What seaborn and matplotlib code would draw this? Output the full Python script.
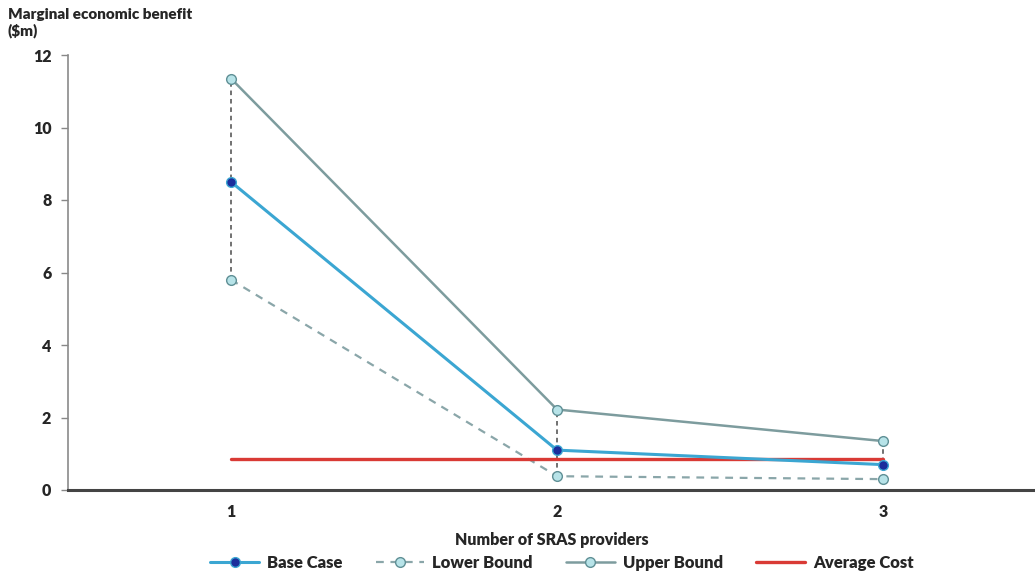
import numpy as np
import pandas as pd
import matplotlib
matplotlib.use("Agg")
import matplotlib.pyplot as plt
import seaborn as sns

# data
providers = [1, 2, 3]
base_case = [8.5, 1.1, 0.7]
lower_bound = [5.8, 0.38, 0.3]
upper_bound = [11.35, 2.22, 1.35]
average_cost = [0.85, 0.85, 0.85]
y_ticks = [0, 2, 4, 6, 8, 10, 12]

sns.set_style("white")
plt.rcParams['font.family'] = ['Lato', 'DejaVu Sans']
plt.rcParams['font.weight'] = 'heavy'

df = pd.DataFrame({"providers": providers, "Base Case": base_case,
                   "Lower Bound": lower_bound, "Upper Bound": upper_bound,
                   "Average Cost": average_cost})

fig = plt.figure(figsize=(10.35, 5.74), dpi=100)
ax = fig.add_axes([68 / 1035, 84 / 574, 967 / 1035, 435 / 574])

# high-low dashed connectors
ax.vlines(providers, lower_bound, upper_bound, colors="#4a4a4a",
          linestyles=(0, (3, 2.5)), linewidth=1.1, zorder=1)

sns.lineplot(data=df, x="providers", y="Upper Bound", ax=ax, color="#7d9c9e",
             linewidth=1.8, marker="o", markersize=7, markerfacecolor="#b7e3e8",
             markeredgecolor="#5f8f95", markeredgewidth=1, label="Upper Bound", zorder=2)
sns.lineplot(data=df, x="providers", y="Lower Bound", ax=ax, color="#8aa6a9",
             linewidth=1.6, linestyle=(0, (3.5, 3)), marker="o", markersize=7,
             markerfacecolor="#b7e3e8", markeredgecolor="#5f8f95", markeredgewidth=1,
             label="Lower Bound", zorder=2)
sns.lineplot(data=df, x="providers", y="Average Cost", ax=ax, color="#d93a35",
             linewidth=2.4, label="Average Cost", zorder=3)
sns.lineplot(data=df, x="providers", y="Base Case", ax=ax, color="#3ba6d2",
             linewidth=2.2, marker="o", markersize=7, markerfacecolor="#1b2e9c",
             markeredgecolor="#3ba6d2", markeredgewidth=1, label="Base Case", zorder=4)

ax.set_xlim(0.5, 3.466)
ax.set_ylim(0, 12)
ax.set_xticks(providers)
ax.set_xticklabels([str(p) for p in providers], fontsize=11.5, fontweight="heavy")
ax.set_xticks([0.5, 1.5, 2.5], minor=True)
ax.tick_params(axis="x", which="major", length=0, pad=10)
ax.tick_params(axis="x", which="minor", length=6, width=1.5, color="#333333", direction="out")
ax.set_yticks(y_ticks)
ax.set_yticklabels([str(v) for v in y_ticks], fontsize=11.5, fontweight="heavy")
ax.tick_params(axis="y", length=5, width=1, color="#888888", direction="out", left=True, pad=7)

for s in ["top", "right"]:
    ax.spines[s].set_visible(False)
ax.spines["left"].set_color("#8a8a8a")
ax.spines["left"].set_linewidth(1.2)
ax.spines["bottom"].set_color("#444444")
ax.spines["bottom"].set_linewidth(2.2)

ax.set_ylabel("")
ax.set_xlabel("Number of SRAS providers", fontsize=11.5, fontweight="heavy", labelpad=9)
fig.text(8 / 1035, 1 - 8 / 574, "Marginal economic benefit\n($m)", fontsize=11,
         fontweight="heavy", va="top", ha="left", linespacing=1.2)

handles, labels = ax.get_legend_handles_labels()
order = [labels.index(n) for n in ["Base Case", "Lower Bound", "Upper Bound", "Average Cost"]]
ax.legend([handles[i] for i in order], [labels[i] for i in order], ncol=4,
          loc="center", bbox_to_anchor=(562 / 1035, 11 / 574),
          bbox_transform=fig.transFigure, frameon=False, fontsize=12,
          handlelength=2.9, columnspacing=2.0, handletextpad=0.5)

fig.savefig("out.png", dpi=100)
